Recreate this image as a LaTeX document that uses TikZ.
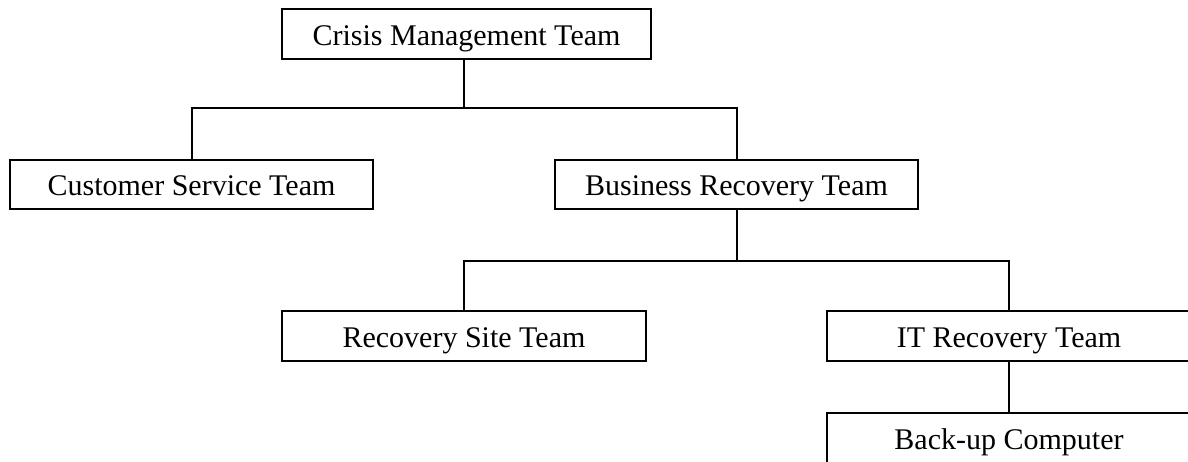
\documentclass[tikz,border=0pt]{standalone}
\usepackage{fontspec}
\setmainfont{Liberation Serif}
\begin{document}
\begin{tikzpicture}[x=1pt,y=-1pt,
  teambox/.style={draw=black, line width=2pt, fill=white, inner sep=0pt,
    minimum width=364pt, minimum height=50pt, text height=24pt, text depth=2pt,
    font=\fontsize{30}{34}\selectfont},
  link/.style={draw=black, line width=2pt}]
\useasboundingbox (0,0) rectangle (1188,461);
\clip (0,0) rectangle (1188,461);
\fill[white] (0,0) rectangle (1188,461);
\node[teambox, minimum width=369pt] (cmt) at (466.5,34) {Crisis Management Team};
\node[teambox, minimum width=363pt, minimum height=49pt] (cst) at (191.5,184.5) {Customer Service Team};
\node[teambox, minimum width=363pt, minimum height=49pt] (brt) at (736.5,184.5) {Business Recovery Team};
\node[teambox] (rst) at (464,336) {Recovery Site Team};
\node[teambox] (itr) at (1009,336) {IT Recovery Team};
\node[teambox] (bkp) at (1009,438) {Back-up Computer};
\coordinate (j1) at (464,108);
\coordinate (j2) at (737,261);
\draw[link] (cmt.south -| j1) -- (j1);
\draw[link] (cst.north) |- (j1) -| (brt.north);
\draw[link] (brt.south -| j2) -- (j2);
\draw[link] (rst.north) |- (j2) -| (itr.north);
\draw[link] (itr.south) -- (bkp.north);
\end{tikzpicture}
\end{document}
